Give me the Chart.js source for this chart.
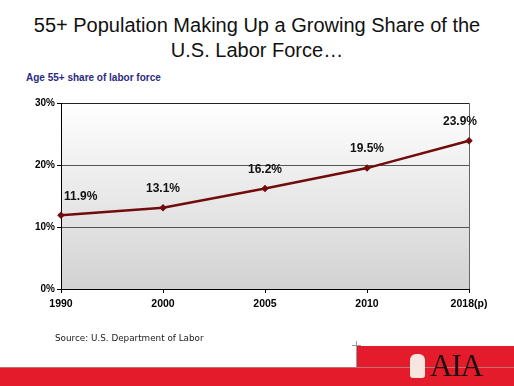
<!DOCTYPE html>
<html>
<head>
<meta charset="utf-8">
<script src="https://cdn.jsdelivr.net/npm/chart.js@4/dist/chart.umd.min.js"></script>
<style>
    html, body { margin: 0; padding: 0; background: #fff; }
    #page { position: relative; width: 514px; height: 386px; overflow: hidden; font-family: "Liberation Sans", Arial, sans-serif; }
    #chart { position: absolute; left: 0; top: 0; }
    .title { position: absolute; left: 0; top: 13px; width: 514px; text-align: center; font-size: 20px; line-height: 25px; color: #111; }
    .subtitle { position: absolute; left: 26px; top: 72px; font-size: 10px; font-weight: bold; color: #2b2b80; }
    .source { position: absolute; left: 55px; top: 333px; font-family: "DejaVu Sans", Verdana, sans-serif; font-size: 8.8px; color: #222; }
    .band-top { position: absolute; left: 357px; top: 346px; width: 157px; height: 40px; background: #e31b2b; }
    .band-low { position: absolute; left: 0; top: 367px; width: 514px; height: 19px; background: #e31b2b; border-top: 1px solid #c07070; }
    .mark-h { position: absolute; left: 352px; top: 345px; width: 9px; height: 1px; background: #999; }
    .mark-v { position: absolute; left: 356px; top: 341px; width: 1px; height: 26px; background: #999; }
    .logo { position: absolute; left: 430px; top: 350px; font-family: "Liberation Serif", "DejaVu Serif", serif; font-size: 31px; line-height: 32px; color: #1a1010; letter-spacing: -1px; }
    .emblem { position: absolute; left: 410px; top: 354px; width: 15px; height: 24px; background: #f6e6e0; border-radius: 6px 6px 3px 3px; }
</style>
</head>
<body>
<div id="page">
    <div class="title">55+ Population Making Up a Growing Share of the<br>U.S. Labor Force…</div>
    <div class="subtitle">Age 55+ share of labor force</div>
    <canvas id="chart" width="514" height="386"></canvas>
    <div class="source">Source: U.S. Department of Labor</div>
    <div class="band-top"></div>
    <div class="band-low"></div>
    <div class="mark-h"></div>
    <div class="mark-v"></div>
    <div class="emblem"></div>
    <div class="logo">AIA</div>
</div>
<script>
const years = ["1990", "2000", "2005", "2010", "2018(p)"];
const shares = [11.9, 13.1, 16.2, 19.5, 23.9];
const yTicks = [0, 10, 20, 30];

const lineColor = "#720c0c";

const plotBackground = {
    id: "plotBackground",
    beforeDraw(chart) {
        const { ctx, chartArea: a } = chart;
        const gradient = ctx.createLinearGradient(0, a.top, 0, a.bottom);
        gradient.addColorStop(0, "#ffffff");
        gradient.addColorStop(1, "#d2d2d2");
        ctx.save();
        ctx.fillStyle = gradient;
        ctx.fillRect(a.left, a.top, a.right - a.left, a.bottom - a.top);
        ctx.restore();
    }
};

const valueLabels = {
    id: "valueLabels",
    afterDatasetsDraw(chart) {
        const { ctx } = chart;
        const points = chart.getDatasetMeta(0).data;
        ctx.save();
        ctx.font = "bold 12px 'Liberation Sans', Arial, sans-serif";
        ctx.fillStyle = "#111";
        ctx.textBaseline = "bottom";
        points.forEach((point, i) => {
            let x = point.x;
            ctx.textAlign = "center";
            if (i === 0) { ctx.textAlign = "left"; x += 3; }
            if (i === points.length - 1) { x -= 9; }
            ctx.fillText(`${shares[i].toFixed(1)}%`, x, point.y - 13);
        });
        ctx.restore();
    }
};

new Chart(document.querySelector("#chart"), {
    type: "line",
    data: {
        labels: years,
        datasets: [{
            data: shares,
            borderColor: lineColor,
            borderWidth: 2.5,
            backgroundColor: lineColor,
            pointStyle: "rectRot",
            pointRadius: 2,
            tension: 0
        }]
    },
    options: {
        responsive: false,
        animation: false,
        layout: { padding: { left: 0, right: 45, top: 103, bottom: 67 } },
        plugins: { legend: { display: false }, tooltip: { enabled: false } },
        scales: {
            x: {
                offset: false,
                afterFit: (scale) => { scale.height = 30; },
                grid: {
                    drawOnChartArea: true,
                    color: (c) => c.index === years.length - 1 ? "#666" : "rgba(0,0,0,0)",
                    tickColor: "#000",
                    tickLength: 4
                },
                border: { color: "#000", width: 1 },
                ticks: { color: "#000", font: { family: "'Liberation Sans', Arial", size: 10.5, weight: "bold" }, padding: 5, maxRotation: 0 }
            },
            y: {
                min: 0,
                max: 30,
                afterFit: (scale) => { scale.width = 61; },
                afterBuildTicks: (scale) => { scale.ticks = yTicks.map((value) => ({ value })); },
                grid: {
                    color: (c) => c.tick && c.tick.value === 30 ? "#222" : "#555",
                    tickColor: "#000",
                    tickLength: 4
                },
                border: { color: "#000", width: 1 },
                ticks: {
                    color: "#000",
                    font: { family: "'Liberation Sans', Arial", size: 10, weight: "bold" },
                    padding: 2,
                    callback: (value) => `${value}%`
                }
            }
        }
    },
    plugins: [plotBackground, valueLabels]
});
</script>
</body>
</html>
